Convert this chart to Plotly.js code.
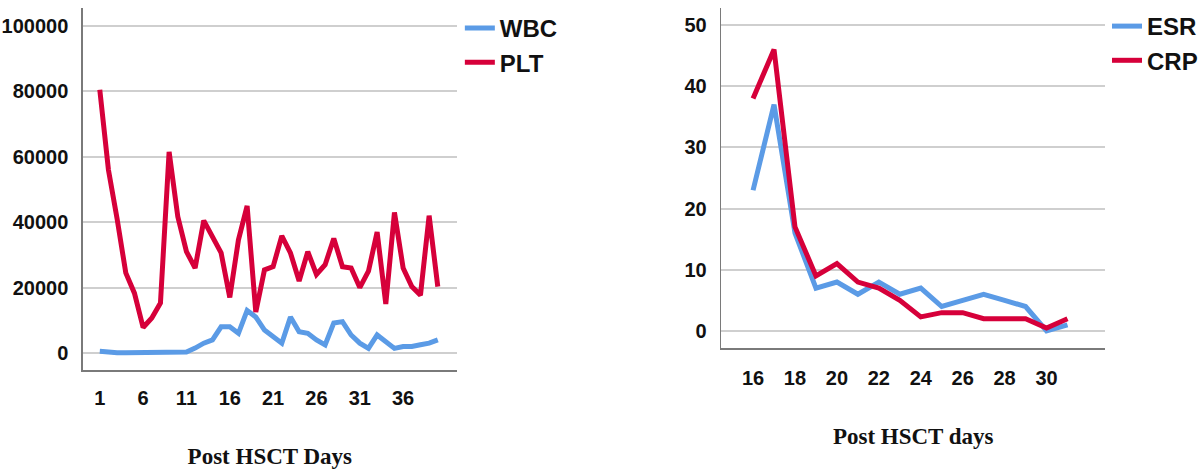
<!DOCTYPE html>
<html>
<head>
<meta charset="utf-8">
<script src="https://cdn.plot.ly/plotly-3.0.1.min.js"></script>
<style>html,body{margin:0;padding:0;background:#fff;}#chart{width:1203px;height:470px;}</style>
</head>
<body>
<div id="chart"></div>
<script>
// Left panel: blood counts by post-HSCT day
const daysLeft = [1,2,3,4,5,6,7,8,9,10,11,12,13,14,15,16,17,18,19,20,21,22,23,24,25,26,27,28,29,30,31,32,33,34,35,36,37,38,39,40];
const wbc = [500,200,100,100,100,100,100,100,100,100,300,1500,3000,4000,8000,8000,6000,13000,11000,7000,5000,3000,11000,6500,6000,4000,2500,9200,9600,5500,3000,1400,5500,3500,1400,2000,2000,2500,3000,4000];
const plt = [80500,56000,41000,24500,18300,7800,10700,15300,61500,41700,31000,26000,40500,35600,30600,17000,34600,45000,12500,25400,26400,35800,30600,22000,31000,24000,27000,35000,26400,26000,20000,25000,37000,15000,43000,26000,20300,17700,42000,20300];
const leftTicks = [1,6,11,16,21,26,31,36];
const leftYTicks = [0,20000,40000,60000,80000,100000];

// Right panel: inflammatory markers by post-HSCT day
const daysRight = [16,17,18,19,20,21,22,23,24,25,26,27,28,29,30,31];
const esr = [23,37,16,7,8,6,8,6,7,4,5,6,5,4,0,1];
const crp = [38,46,17,9,11,8,7,5,2.3,3,3,2,2,2,0.5,2];
const rightTicks = [16,18,20,22,24,26,28,30];
const rightYTicks = [0,10,20,30,40,50];

const BLUE = '#5b9be6';
const RED = '#d6003a';
const tickFont = {family: 'Liberation Sans, Arial, sans-serif', size: 20, color: '#111', weight: 'bold'};
const titleFont = {family: 'Liberation Serif, Times New Roman, serif', size: 23, color: '#111', weight: 'bold'};
const legFont = {family: 'Liberation Sans, Arial, sans-serif', size: 24, color: '#111', weight: 'bold'};

const traces = [
  {x: daysLeft, y: wbc, name: 'WBC', type: 'scatter', mode: 'lines', line: {color: BLUE, width: 5}, xaxis: 'x', yaxis: 'y', legend: 'legend'},
  {x: daysLeft, y: plt, name: 'PLT', type: 'scatter', mode: 'lines', line: {color: RED, width: 5}, xaxis: 'x', yaxis: 'y', legend: 'legend'},
  {x: daysRight, y: esr, name: 'ESR', type: 'scatter', mode: 'lines', line: {color: BLUE, width: 5}, xaxis: 'x2', yaxis: 'y2', legend: 'legend2'},
  {x: daysRight, y: crp, name: 'CRP', type: 'scatter', mode: 'lines', line: {color: RED, width: 5}, xaxis: 'x2', yaxis: 'y2', legend: 'legend2'}
];

const W = 1203, H = 470;
const axisCommon = {showline: true, linecolor: '#7a7a7a', linewidth: 1.5, zeroline: false, ticks: '', tickfont: tickFont, fixedrange: true};

const layout = {
  width: W, height: H,
  margin: {l: 0, r: 0, t: 0, b: 0},
  paper_bgcolor: '#fff', plot_bgcolor: '#fff',
  showlegend: true,
  xaxis: Object.assign({}, axisCommon, {
    domain: [83/W, 458/W], range: [-0.96, 42.2], tickmode: 'array', tickvals: leftTicks,
    showgrid: false, anchor: 'y', ticklabelstandoff: 9,
    title: {text: 'Post HSCT Days', font: titleFont, standoff: 40}
  }),
  yaxis: Object.assign({}, axisCommon, {
    domain: [(H-370)/H, (H-8)/H], range: [-5200, 105500], tickmode: 'array', tickvals: leftYTicks,
    tickformat: 'd', showgrid: true, gridcolor: '#cfcfcf', gridwidth: 2, anchor: 'x', ticklabelstandoff: 9
  }),
  xaxis2: Object.assign({}, axisCommon, {
    domain: [723/W, 1108/W], range: [14.48, 32.8], tickmode: 'array', tickvals: rightTicks,
    showgrid: false, anchor: 'y2', ticklabelstandoff: 11,
    title: {text: 'Post HSCT days', font: titleFont, standoff: 40}
  }),
  yaxis2: Object.assign({}, axisCommon, {
    domain: [(H-348)/H, (H-8)/H], range: [-2.78, 52.78], tickmode: 'array', tickvals: rightYTicks,
    showgrid: true, gridcolor: '#cfcfcf', gridwidth: 2, anchor: 'x2', ticklabelstandoff: 9
  }),
  legend: {x: 461/W, y: 1 - 6/H, xanchor: 'left', yanchor: 'top', font: legFont, bgcolor: 'rgba(0,0,0,0)', tracegroupgap: 0, itemwidth: 30},
  legend2: {x: 1110/W, y: 1 - 4/H, xanchor: 'left', yanchor: 'top', font: legFont, bgcolor: 'rgba(0,0,0,0)', tracegroupgap: 0, itemwidth: 30}
};

Plotly.newPlot('chart', traces, layout, {displayModeBar: false, staticPlot: true});
</script>
</body>
</html>
